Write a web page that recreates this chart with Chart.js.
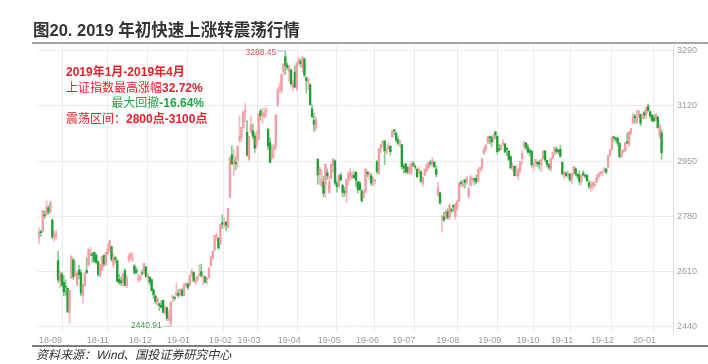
<!DOCTYPE html>
<html>
<head>
<meta charset="utf-8">
<script src="https://cdn.jsdelivr.net/npm/chart.js@4.4.1/dist/chart.umd.min.js"></script>
<style>
html, body { margin: 0; padding: 0; background: #fff; }
#wrap { position: relative; width: 708px; height: 364px; overflow: hidden; font-family: "Liberation Sans", "Noto Sans CJK SC", sans-serif; }
#c { position: absolute; left: 0; top: 0; }
.title { position: absolute; left: 33px; top: 20px; font-size: 16.5px; line-height: 20px; font-weight: bold; color: #333; white-space: nowrap; }
.rule-top { position: absolute; left: 32px; top: 42px; width: 676px; height: 2px; background: #a4a4a4; }
.rule-bottom { position: absolute; left: 32px; top: 345px; width: 676px; height: 2px; background: #7c7c7c; }
.source { position: absolute; left: 35px; top: 347px; font-size: 12px; line-height: 16px; color: #333; white-space: nowrap; transform: skewX(-14deg); transform-origin: left bottom; }
.note { position: absolute; left: 66px; top: 65px; width: 138px; font-size: 12px; line-height: 15.6px; color: #e8202a; white-space: nowrap; }
.note b { font-weight: bold; }
.note .g { color: #1ea84a; text-align: right; }
</style>
</head>
<body>
<div id="wrap">
  <canvas id="c" width="708" height="364"></canvas>
  <div class="title">图20. 2019 年初快速上涨转震荡行情</div>
  <div class="rule-top"></div>
  <div class="note">
    <div><b>2019年1月-2019年4月</b></div>
    <div>上证指数最高涨幅<b>32.72%</b></div>
    <div class="g">最大回撤<b>-16.64%</b></div>
    <div>震荡区间：<b>2800点-3100点</b></div>
  </div>
  <div class="rule-bottom"></div>
  <div class="source">资料来源：Wind、国投证券研究中心</div>
</div>
<script>
// trading days per month, 2018-09 (from the 19th) to 2020-01 (to the 23rd)
const months = ['18-09', '18-10', '18-11', '18-12', '19-01', '19-02', '19-03', '19-04', '19-05',
    '19-06', '19-07', '19-08', '19-09', '19-10', '19-11', '19-12', '20-01'];
const monthDays = [7, 18, 22, 20, 22, 15, 21, 21, 20, 19, 23, 22, 20, 18, 21, 22, 16];
const tickLabels = ['18-09', '18-11', '18-12', '19-01', '19-02', '19-03', '19-04', '19-05',
    '19-06', '19-07', '19-08', '19-09', '19-10', '19-11', '19-12', '20-01'];
const yTicks = [2440, 2610, 2780, 2950, 3120, 3290];

// 上证指数 daily candles
const opens = [
    2712, 2731, 2734, 2784, 2785, 2806, 2793,
    2768, 2713, 2720, 2643, 2582, 2601, 2576, 2563, 2557, 2482, 2588, 2645, 2597, 2566, 2614, 2605, 2535, 2566,
    2613, 2629, 2658, 2664, 2668, 2660, 2638, 2598, 2613, 2659, 2631, 2663, 2679, 2685, 2630, 2652, 2642, 2584, 2581, 2574, 2612, 2565,
    2646, 2655, 2647, 2626, 2614, 2585, 2585, 2604, 2603, 2623, 2590, 2592, 2585, 2552, 2533, 2513, 2509, 2504, 2520, 2482,
    2497, 2461, 2447, 2528, 2530, 2535, 2542, 2540, 2552, 2535, 2568, 2572, 2567, 2600, 2606, 2575, 2583, 2597, 2609, 2594, 2592, 2585,
    2590, 2626, 2652, 2675, 2718, 2712, 2695, 2760, 2756, 2762, 2745, 2838, 2969, 2947, 2946,
    2953, 3016, 3023, 3054, 3104, 3039, 2955, 3040, 3044, 3027, 3000, 3017, 3104, 3089, 3087, 3103, 3048, 3006, 2960, 2986, 2995,
    3125, 3175, 3167, 3227, 3272, 3246, 3225, 3232, 3178, 3225, 3173, 3254, 3258, 3239, 3265, 3206, 3197, 3185, 3111, 3076, 3052,
    2955, 2908, 2875, 2885, 2877, 2914, 2853, 2896, 2934, 2951, 2882, 2872, 2906, 2874, 2858, 2851, 2891, 2903, 2898, 2907,
    2915, 2886, 2881, 2857, 2838, 2853, 2915, 2904, 2904, 2887, 2888, 2948, 2912, 2988, 3007, 3012, 2977, 2987, 2996,
    3025, 3044, 3036, 3016, 3005, 3001, 2934, 2940, 2931, 2913, 2917, 2942, 2934, 2925, 2913, 2917, 2881, 2906, 2920, 2930, 2946, 2940, 2946,
    2925, 2847, 2852, 2778, 2779, 2776, 2794, 2777, 2800, 2813, 2779, 2803, 2826, 2883, 2875, 2892, 2885, 2842, 2874, 2893, 2895, 2897,
    2888, 2924, 2931, 2975, 2987, 3008, 3024, 3025, 3017, 3040, 3027, 2986, 2987, 3002, 3003, 2987, 2980, 2964, 2931, 2934,
    2905, 2905, 2922, 2958, 2995, 3006, 2993, 2983, 2980, 2934, 2945, 2946, 2946, 2939, 2957, 2981, 2952, 2939,
    2924, 2960, 2976, 2987, 2982, 2986, 2946, 2910, 2914, 2905, 2910, 2892, 2912, 2927, 2909, 2907, 2886, 2913, 2906, 2905, 2883,
    2869, 2873, 2875, 2885, 2902, 2914, 2913, 2920, 2926, 2930, 2968, 2986, 3023, 3021, 3020, 3005, 2964, 2980, 2982, 3007, 3003, 3036,
    3067, 3089, 3070, 3085, 3094, 3082, 3100, 3095, 3120, 3102, 3092, 3084, 3081, 3086, 3031, 3037
];
const highs = [
    2744, 2736, 2798, 2796, 2827, 2813, 2827,
    2771, 2734, 2736, 2671, 2612, 2606, 2597, 2583, 2559, 2551, 2658, 2649, 2640, 2608, 2629, 2614, 2570, 2606,
    2651, 2679, 2684, 2668, 2670, 2664, 2643, 2631, 2655, 2660, 2668, 2693, 2707, 2688, 2665, 2656, 2646, 2600, 2592, 2603, 2618, 2597,
    2663, 2667, 2666, 2631, 2621, 2600, 2600, 2614, 2634, 2626, 2602, 2593, 2586, 2556, 2537, 2528, 2512, 2519, 2521, 2503,
    2500, 2488, 2515, 2536, 2531, 2574, 2553, 2555, 2556, 2571, 2575, 2573, 2598, 2618, 2608, 2592, 2597, 2630, 2631, 2596, 2595, 2591,
    2623, 2654, 2673, 2721, 2728, 2714, 2755, 2784, 2773, 2765, 2804, 2961, 2997, 2986, 2963,
    2997, 3090, 3054, 3103, 3129, 3075, 3027, 3090, 3064, 3038, 3043, 3097, 3110, 3113, 3112, 3117, 3052, 3021, 3000, 3003, 3094,
    3175, 3191, 3217, 3251, 3288.45, 3253, 3244, 3233, 3200, 3245, 3254, 3270, 3265, 3271, 3268, 3212, 3206, 3190, 3123, 3098, 3088,
    2958, 2932, 2924, 2903, 2943, 2926, 2903, 2943, 2957, 2954, 2890, 2910, 2914, 2878, 2869, 2893, 2918, 2927, 2916, 2917,
    2918, 2887, 2888, 2863, 2862, 2926, 2920, 2917, 2911, 2900, 2894, 2952, 2988, 3004, 3015, 3014, 2992, 3008, 2996,
    3045, 3048, 3042, 3025, 3013, 3001, 2942, 2945, 2933, 2939, 2946, 2950, 2938, 2926, 2932, 2921, 2900, 2926, 2941, 2946, 2952, 2960, 2949,
    2935, 2884, 2853, 2779, 2792, 2798, 2803, 2815, 2804, 2815, 2822, 2829, 2883, 2890, 2893, 2894, 2902, 2871, 2907, 2898, 2898, 2907,
    2925, 2931, 2957, 2993, 3000, 3027, 3028, 3025, 3032, 3042, 3027, 3002, 3000, 3016, 3003, 2992, 2983, 2966, 2943, 2936,
    2938, 2929, 2949, 2983, 3012, 3007, 3002, 2988, 2983, 2945, 2956, 2949, 2952, 2957, 2982, 2983, 2954, 2943,
    2959, 2978, 2995, 2993, 2986, 2999, 2948, 2918, 2916, 2920, 2913, 2912, 2934, 2930, 2912, 2921, 2907, 2921, 2910, 2909, 2889,
    2887, 2885, 2885, 2907, 2913, 2917, 2919, 2930, 2926, 2968, 2986, 3026, 3027, 3024, 3025, 3008, 2982, 2987, 3007, 3037, 3040, 3051,
    3098, 3094, 3107, 3105, 3094, 3095, 3105, 3116, 3127, 3105, 3093, 3092, 3096, 3089, 3066, 3048
];
const lows = [
    2694, 2717, 2732, 2773, 2783, 2785, 2791,
    2710, 2703, 2710, 2575, 2558, 2562, 2534, 2535, 2482, 2449, 2587, 2585, 2592, 2566, 2586, 2534, 2511, 2563,
    2602, 2626, 2658, 2637, 2639, 2634, 2595, 2592, 2612, 2624, 2628, 2660, 2669, 2640, 2620, 2636, 2576, 2569, 2565, 2564, 2564, 2559,
    2637, 2642, 2640, 2600, 2602, 2576, 2580, 2598, 2603, 2590, 2578, 2567, 2548, 2526, 2508, 2504, 2488, 2496, 2482, 2477,
    2457, 2455, 2440.91, 2515, 2520, 2535, 2529, 2534, 2533, 2534, 2561, 2553, 2565, 2594, 2578, 2571, 2579, 2595, 2591, 2568, 2575, 2570,
    2589, 2626, 2646, 2674, 2704, 2677, 2693, 2741, 2744, 2734, 2743, 2838, 2940, 2905, 2923,
    2931, 3006, 3009, 3050, 3070, 2964, 2952, 3036, 3019, 2975, 2990, 3017, 3076, 3066, 3082, 3086, 2985, 2944, 2956, 2960, 2986,
    3118, 3161, 3159, 3218, 3217, 3232, 3194, 3181, 3167, 3177, 3167, 3246, 3240, 3225, 3208, 3161, 3172, 3122, 3085, 3040, 3044,
    2878, 2878, 2871, 2839, 2838, 2894, 2851, 2896, 2916, 2876, 2854, 2866, 2888, 2839, 2842, 2823, 2876, 2891, 2894, 2897,
    2872, 2852, 2859, 2823, 2836, 2853, 2901, 2893, 2874, 2873, 2879, 2910, 2910, 2976, 2994, 2939, 2971, 2987, 2968,
    3023, 3031, 3008, 2999, 2994, 2925, 2914, 2913, 2910, 2909, 2907, 2933, 2924, 2900, 2911, 2884, 2872, 2906, 2916, 2925, 2934, 2935, 2928,
    2902, 2841, 2817, 2733, 2763, 2770, 2771, 2768, 2790, 2794, 2771, 2797, 2826, 2872, 2871, 2866, 2879, 2835, 2874, 2883, 2876, 2880,
    2888, 2914, 2920, 2970, 2979, 3003, 3003, 2994, 3009, 3020, 2971, 2980, 2983, 2999, 2976, 2967, 2951, 2926, 2919, 2905,
    2902, 2892, 2912, 2942, 2987, 2985, 2972, 2965, 2931, 2919, 2935, 2932, 2926, 2917, 2956, 2948, 2933, 2923,
    2917, 2957, 2968, 2972, 2972, 2962, 2907, 2896, 2901, 2897, 2888, 2880, 2907, 2905, 2894, 2876, 2876, 2903, 2897, 2887, 2865,
    2856, 2862, 2870, 2884, 2895, 2903, 2906, 2916, 2911, 2929, 2966, 2984, 3012, 3011, 2996, 2962, 2960, 2975, 2980, 3004, 2994, 3031,
    3067, 3067, 3065, 3084, 3059, 3081, 3082, 3082, 3104, 3083, 3071, 3070, 3074, 3051, 3019, 2955
];
const closes = [
    2731, 2729, 2797, 2781, 2807, 2792, 2821,
    2716, 2721, 2725, 2583, 2606, 2568, 2546, 2561, 2486, 2550, 2654, 2594, 2603, 2604, 2599, 2542, 2568, 2603,
    2606, 2677, 2665, 2659, 2641, 2636, 2599, 2631, 2655, 2632, 2668, 2680, 2703, 2646, 2651, 2646, 2579, 2575, 2574, 2602, 2567, 2588,
    2655, 2666, 2650, 2605, 2606, 2585, 2594, 2602, 2634, 2594, 2598, 2576, 2550, 2537, 2517, 2528, 2504, 2499, 2483, 2494,
    2465, 2464, 2515, 2533, 2526, 2544, 2535, 2554, 2535, 2570, 2570, 2560, 2596, 2611, 2580, 2582, 2592, 2602, 2597, 2594, 2576, 2585,
    2618, 2654, 2671, 2721, 2720, 2682, 2755, 2755, 2761, 2751, 2804, 2961, 2941, 2954, 2941,
    2994, 3027, 3054, 3102, 3106, 2969, 3026, 3060, 3027, 2990, 3022, 3096, 3091, 3091, 3101, 3104, 2997, 2946, 2983, 2995, 3091,
    3171, 3177, 3217, 3247, 3245, 3239, 3242, 3189, 3189, 3178, 3254, 3263, 3251, 3271, 3216, 3198, 3202, 3124, 3086, 3063, 3078,
    2907, 2926, 2893, 2850, 2940, 2904, 2884, 2939, 2956, 2882, 2871, 2905, 2892, 2853, 2853, 2892, 2910, 2915, 2905, 2899,
    2890, 2862, 2862, 2828, 2852, 2926, 2910, 2910, 2882, 2888, 2891, 2918, 2988, 3001, 3008, 2982, 2977, 2997, 2979,
    3044, 3043, 3015, 3005, 3012, 2933, 2929, 2915, 2917, 2931, 2942, 2937, 2931, 2901, 2924, 2887, 2899, 2923, 2938, 2945, 2941, 2953, 2933,
    2909, 2868, 2821, 2778, 2768, 2794, 2775, 2815, 2797, 2808, 2815, 2824, 2883, 2881, 2880, 2884, 2898, 2864, 2902, 2894, 2891, 2886,
    2925, 2931, 2957, 2985, 2999, 3024, 3022, 3009, 3031, 3031, 2979, 2985, 2999, 3007, 2978, 2986, 2955, 2929, 2933, 2905,
    2914, 2925, 2948, 2973, 3008, 2992, 2978, 2977, 2939, 2940, 2955, 2941, 2940, 2955, 2981, 2955, 2940, 2929,
    2958, 2975, 2991, 2979, 2979, 2964, 2910, 2915, 2905, 2910, 2892, 2910, 2934, 2911, 2903, 2886, 2907, 2907, 2903, 2889, 2872,
    2876, 2885, 2878, 2900, 2912, 2915, 2917, 2925, 2916, 2968, 2985, 3023, 3022, 3017, 3005, 2963, 2982, 2982, 3007, 3006, 3040, 3050,
    3085, 3084, 3083, 3105, 3067, 3095, 3092, 3116, 3106, 3090, 3075, 3075, 3095, 3053, 3060, 2976
];

const UP = '#f19ea4', UP_WICK = '#f5b9bc';
const DOWN = '#20a035', DOWN_WICK = '#86c98f';

// one category per trading day, plus a few empty slots on the right
const days = [];
const monthStart = {};
months.forEach((m, k) => {
    monthStart[m] = days.length;
    for (let i = 0; i < monthDays[k]; i++) days.push(m);
});
const slots = days.concat(['', '', '', '', '', '']);
const xTickIdx = tickLabels.map(m => monthStart[m]);

const isUp = closes.map((c, i) => c >= opens[i]);

const marks = {
    id: 'marks',
    afterDatasetsDraw(chart) {
        const {ctx, scales: {x, y}} = chart;
        const hi = Math.max(...highs), lo = Math.min(...lows);
        const hiX = x.getPixelForValue(highs.indexOf(hi)), hiY = y.getPixelForValue(hi);
        const loX = x.getPixelForValue(lows.indexOf(lo)), loY = y.getPixelForValue(lo);
        ctx.save();
        ctx.font = '8.5px "Liberation Sans"';
        ctx.textBaseline = 'middle';
        ctx.textAlign = 'right';
        ctx.lineWidth = 1;

        ctx.fillStyle = '#d9545c';
        ctx.fillText(hi.toFixed(2), hiX - 9, hiY + 1);
        ctx.strokeStyle = '#a9c3d6';
        ctx.beginPath();
        ctx.moveTo(hiX - 8, hiY - 0.5);
        ctx.lineTo(hiX, hiY - 0.5);
        ctx.lineTo(hiX, hiY + 2);
        ctx.stroke();

        ctx.fillStyle = '#3c9c50';
        ctx.fillText(lo.toFixed(2), loX - 9, loY);
        ctx.strokeStyle = '#a8cdb0';
        ctx.beginPath();
        ctx.moveTo(loX - 8, loY + 0.5);
        ctx.lineTo(loX, loY + 0.5);
        ctx.stroke();
        ctx.restore();
    }
};

new Chart(document.getElementById('c'), {
    type: 'bar',
    data: {
        labels: slots,
        datasets: [
            {
                data: lows.map((l, i) => [l, highs[i]]),
                backgroundColor: isUp.map(u => u ? UP_WICK : DOWN_WICK),
                barThickness: 1,
                grouped: false,
                order: 2
            },
            {
                data: opens.map((o, i) => [o, closes[i]]),
                backgroundColor: isUp.map(u => u ? UP : DOWN),
                barThickness: 1.7,
                minBarLength: 1,
                grouped: false,
                order: 1
            }
        ]
    },
    options: {
        responsive: false,
        devicePixelRatio: 1,
        animation: false,
        layout: {padding: {left: 38, top: 45, right: 8, bottom: 15}},
        plugins: {legend: {display: false}, tooltip: {enabled: false}},
        scales: {
            x: {
                afterBuildTicks: axis => { axis.ticks = xTickIdx.map(v => ({value: v})); },
                grid: {color: '#ececec', drawTicks: false},
                border: {display: false},
                ticks: {
                    autoSkip: false,
                    maxRotation: 0,
                    align: 'start',
                    padding: 3,
                    color: '#9a9a9a',
                    font: {family: 'Liberation Sans', size: 9}
                }
            },
            y: {
                position: 'right',
                min: 2421.7,
                max: 3308.3,
                afterBuildTicks: axis => { axis.ticks = yTicks.map(v => ({value: v})); },
                grid: {color: '#ececec', drawTicks: false},
                border: {color: '#dcdcdc'},
                ticks: {
                    padding: 3,
                    color: '#9a9a9a',
                    font: {family: 'Liberation Sans', size: 9},
                    callback: v => String(v)
                }
            }
        }
    },
    plugins: [marks]
});
</script>
</body>
</html>
